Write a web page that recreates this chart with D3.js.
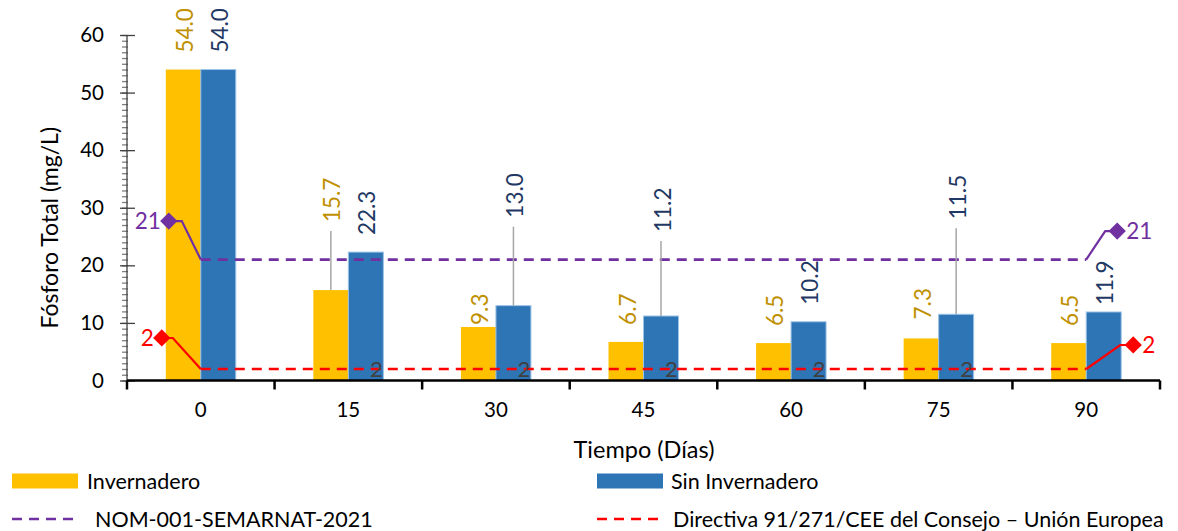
<!DOCTYPE html>
<html><head><meta charset="utf-8">
<script src="https://cdn.jsdelivr.net/npm/d3@7"></script>
<style>
body{margin:0;background:#fff;}
text{font-family:Lato,"Noto Sans",sans-serif;}
</style></head>
<body><svg id="c" width="1178" height="531"></svg>
<script>
// ---- data ----
const categories = ["0","15","30","45","60","75","90"];
const invernadero = [54.0,15.7,9.3,6.7,6.5,7.3,6.5];
const sinInvernadero = [54.0,22.3,13.0,11.2,10.2,11.5,11.9];
const nomLimit = [21,21,21,21,21,21,21];
const euLimit = [2,2,2,2,2,2,2];
const yTicks = [0,10,20,30,40,50,60];
const seriesNames = ["Invernadero","Sin Invernadero","NOM-001-SEMARNAT-2021","Directiva 91/271/CEE del Consejo \u2013 Uni\u00f3n Europea"];

// ---- layout (pixels) ----
const yellowLabelGap = [17,68,2,17,17,19,17];
const blueLabelGap = [17,17,88,84,17,95,7];

const svg = d3.select("#c");
const L = 127, R = 1160, T = 35, B = 380.5;
const x = d3.scaleBand().domain(categories).range([L,R]).padding(0);
const y = d3.scaleLinear().domain([0,60]).range([B,T]);
const bw = 35;
const cx = c => x(c) + x.bandwidth()/2;

const C = {yellow:"#FFC000", blue:"#2E75B6", purple:"#7030A0", red:"#FF0000",
  yLab:"#BF9000", bLab:"#1F3864", gray:"#404040", leader:"#A6A6A6"};

// minor ticks
const minor = svg.append("g").attr("transform",`translate(${L},0)`)
  .call(d3.axisLeft(y).tickValues(d3.range(0,61,1)).tickSize(5).tickFormat(""));
minor.select(".domain").remove();
minor.selectAll("line").attr("stroke","#7f7f7f").attr("x1",1).attr("stroke-width",1.3);

// y axis
const ya = svg.append("g").attr("transform",`translate(${L},0)`)
  .call(d3.axisLeft(y).tickValues(yTicks).tickSize(7).tickPadding(16));
ya.select(".domain").attr("stroke","#404040").attr("stroke-width",1.3).attr("d",`M0,${T}V${B}`);
ya.selectAll(".tick line").attr("x2",-7).attr("x1",8).attr("stroke","#404040").attr("stroke-width",1.3);
ya.selectAll("text").attr("font-size",20.5).attr("fill","#000").style("font-family","Lato");

// bars
const g = svg.append("g");
g.selectAll(".by").data(invernadero).join("rect")
  .attr("x",(d,i)=>cx(categories[i])-bw).attr("y",d=>y(d)).attr("width",bw).attr("height",d=>B-y(d))
  .attr("fill",C.yellow);
g.selectAll(".bb").data(sinInvernadero).join("rect").attr("class","bb")
  .attr("x",(d,i)=>cx(categories[i])).attr("y",d=>y(d)).attr("width",bw).attr("height",d=>B-y(d))
  .attr("fill",C.blue).attr("stroke","#9DC3E6").attr("stroke-width",1);

// x axis
const xa = svg.append("g").attr("transform",`translate(0,${B})`)
  .call(d3.axisBottom(x).tickSize(0).tickPadding(22));
xa.select(".domain").remove();
xa.selectAll("text").attr("font-size",20.5).attr("fill","#000").style("font-family","Lato");
svg.append("g").selectAll("line").data(categories.concat(["end"])).join("line")
  .attr("x1",(d,i)=> i<categories.length ? x(d) : R).attr("x2",(d,i)=> i<categories.length ? x(d) : R)
  .attr("y1",B).attr("y2",B+9).attr("stroke","#000").attr("stroke-width",2.5);
svg.append("line").attr("x1",L).attr("x2",R).attr("y1",B).attr("y2",B).attr("stroke","#000").attr("stroke-width",2.6);

// limit lines
const line = d3.line().x((d,i)=>cx(categories[i])).y(d=>y(d));
svg.append("path").datum(nomLimit).attr("d",line).attr("fill","none")
  .attr("stroke",C.purple).attr("stroke-width",2.6).attr("stroke-dasharray","10,7");
svg.append("path").datum(euLimit).attr("d",line).attr("fill","none")
  .attr("stroke",C.red).attr("stroke-width",2.6).attr("stroke-dasharray","10,7");

// middle "2" labels for EU series
svg.append("g").selectAll("text").data(euLimit.slice(1,-1)).join("text")
  .attr("x",(d,i)=>cx(categories[i+1])+28).attr("y",d=>y(d)).attr("dy","0.36em")
  .attr("text-anchor","middle").attr("font-size",22).attr("fill",C.gray).text(d=>d);

// end labels with leader lines and diamond keys
function endLabel(val, idx, color, dx1, dy, dxd, side){
  const px = cx(categories[idx]), py = y(val);
  const ly = py + dy;
  const ex = px + dx1, dxm = px + dxd;
  svg.append("polyline").attr("points",`${px},${py} ${ex},${ly} ${dxm},${ly}`)
    .attr("fill","none").attr("stroke",color).attr("stroke-width",2.2);
  svg.append("path").attr("d",d3.symbol(d3.symbolDiamond2,190)()).attr("transform",`translate(${dxm},${ly})`).attr("fill",color);
  svg.append("text").attr("x", side<0 ? dxm-8 : dxm+9).attr("y",ly).attr("dy","0.36em")
    .attr("text-anchor", side<0 ? "end":"start").attr("font-size",22.5).attr("fill",color).text(val);
}
endLabel(nomLimit[0],0,C.purple,-19,-38.5,-32,-1);
endLabel(nomLimit[6],6,C.purple,19,-28.5,31,1);
endLabel(euLimit[0],0,C.red,-28,-31,-39,-1);
endLabel(euLimit[6],6,C.red,34,-24,47,1);

// bar labels
function barLabels(vals, gaps, off, color){
  vals.forEach((v,i)=>{
    const bx = cx(categories[i]) + off;
    const top = y(v), ly = top - gaps[i];
    if (gaps[i] > 40){
      svg.append("line").attr("x1",bx).attr("x2",bx).attr("y1",top).attr("y2",ly+9)
        .attr("stroke",C.leader).attr("stroke-width",1.5);
    }
    svg.append("text").attr("transform",`translate(${bx+1.5},${ly}) rotate(-90)`)
      .attr("dy","0.36em").attr("font-size",22.5).attr("fill",color).text(v.toFixed(1));
  });
}
barLabels(invernadero, yellowLabelGap, -bw/2, C.yLab);
barLabels(sinInvernadero, blueLabelGap, bw/2, C.bLab);

// axis titles
svg.append("text").attr("transform",`translate(50,${(T+B)/2+20}) rotate(-90)`).attr("dy","0.36em")
  .attr("text-anchor","middle").attr("font-size",23).attr("fill","#000").text("F\u00f3sforo Total (mg/L)");
svg.append("text").attr("x",644).attr("y",450).attr("dy","0.36em")
  .attr("text-anchor","middle").attr("font-size",23.5).attr("fill","#000").text("Tiempo (D\u00edas)");

// legend
const lg = svg.append("g");
const legItems = [
  {name:seriesNames[0], type:"rect", color:C.yellow, x:12, y:481, tx:87},
  {name:seriesNames[1], type:"rect", color:C.blue, x:597, y:481, tx:671},
  {name:seriesNames[2], type:"dash", color:C.purple, x:12, y:519, tx:95},
  {name:seriesNames[3], type:"dash", color:C.red, x:597, y:519, tx:673}
];
legItems.forEach(it=>{
  if(it.type==="rect"){
    lg.append("rect").attr("x",it.x).attr("y",it.y-7.5).attr("width",66).attr("height",15).attr("fill",it.color);
  } else {
    lg.append("line").attr("x1",it.x).attr("x2",it.x+66).attr("y1",it.y).attr("y2",it.y)
      .attr("stroke",it.color).attr("stroke-width",2.6).attr("stroke-dasharray","10,7");
  }
  lg.append("text").attr("x",it.tx).attr("y",it.y).attr("dy","0.36em").attr("font-size",21.5).text(it.name);
});
</script></body></html>
